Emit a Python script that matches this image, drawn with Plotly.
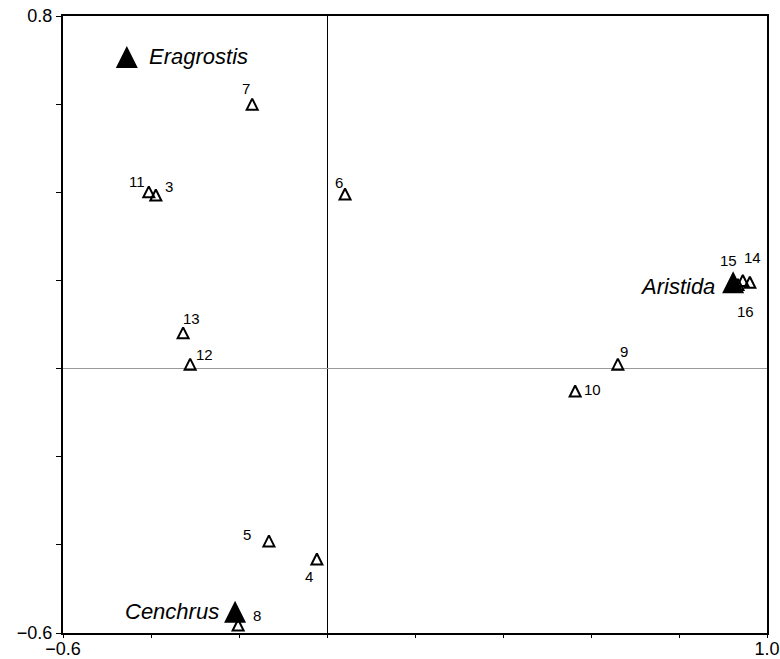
import plotly.graph_objects as go

# Site scores (open triangles)
site_ids = ["3", "4", "5", "6", "7", "8", "9", "10", "11", "12", "13", "14", "15", "16"]
site_x = [-0.389, -0.023, -0.132, 0.041, -0.170, -0.202, 0.661, 0.564, -0.405, -0.311, -0.327, 0.961, 0.945, 0.934]
site_y = [0.394, -0.432, -0.391, 0.396, 0.600, -0.582, 0.010, -0.051, 0.401, 0.010, 0.081, 0.196, 0.200, 0.191]

# Grass genera (filled triangles)
genus_names = ["Eragrostis", "Cenchrus", "Aristida"]
genus_x = [-0.455, -0.209, 0.923]
genus_y = [0.707, -0.552, 0.196]

# Axis ticks
tick_vals_x = [-0.6, -0.4, -0.2, 0.0, 0.2, 0.4, 0.6, 0.8, 1.0]
tick_text_x = ["\u22120.6", "", "", "", "", "", "", "", "1.0"]
tick_vals_y = [-0.6, -0.4, -0.2, 0.0, 0.2, 0.4, 0.6, 0.8]
tick_text_y = ["\u22120.6", "", "", "", "", "", "", "0.8"]

# Pixel offsets for the site number labels
site_label_shift = {
    "3": (13, 8), "4": (-8, -18), "5": (-22, 6), "6": (-6, 12), "7": (-6, 16),
    "8": (19, 10), "9": (6, 13), "10": (17, 2), "11": (-12, 10), "12": (14, 10),
    "13": (8, 14), "14": (3, 25), "15": (-14, 20), "16": (8, -27),
}
# Anchor and offsets for the genus labels
genus_label_style = {
    "Eragrostis": ("left", 20, 0),
    "Cenchrus": ("right", -14, 0),
    "Aristida": ("right", -16, -4),
}

FONT = "Liberation Sans, Arial, sans-serif"

# Equilateral upward triangles centred on the point: an arrow-down symbol
# turned by 180 degrees and pushed back by half its size.
SMALL, BIG = 11, 22

fig = go.Figure()
fig.add_trace(go.Scatter(
    x=site_x, y=site_y, mode="markers",
    marker=dict(symbol="arrow-down-open", size=SMALL, angle=180, standoff=SMALL / 2,
                color="black", line=dict(width=2, color="black")),
    hoverinfo="text", text=site_ids, showlegend=False,
))
fig.add_trace(go.Scatter(
    x=genus_x, y=genus_y, mode="markers",
    marker=dict(symbol="arrow-down", size=BIG, angle=180, standoff=BIG / 2,
                color="black", line=dict(width=0)),
    hoverinfo="text", text=genus_names, showlegend=False,
))

annotations = []
for sid, x, y in zip(site_ids, site_x, site_y):
    dx, dy = site_label_shift[sid]
    annotations.append(dict(x=x, y=y, text=sid, showarrow=False, xshift=dx, yshift=dy,
                            font=dict(family=FONT, size=15, color="black")))
for name, x, y in zip(genus_names, genus_x, genus_y):
    anchor, dx, dy = genus_label_style[name]
    annotations.append(dict(x=x, y=y, text="<i>" + name + "</i>", showarrow=False,
                            xanchor=anchor, xshift=dx, yshift=dy,
                            font=dict(family=FONT, size=22, color="black")))

fig.update_layout(
    width=780, height=659,
    margin=dict(l=63, r=13, t=16, b=26, autoexpand=False),
    paper_bgcolor="white", plot_bgcolor="white",
    font=dict(family=FONT, size=18, color="black"),
    annotations=annotations,
    xaxis=dict(
        range=[-0.6, 1.0], tickvals=tick_vals_x, ticktext=tick_text_x,
        ticks="outside", ticklen=3, tickwidth=1, tickcolor="black",
        showline=True, linecolor="black", linewidth=2, mirror=True,
        showgrid=False, zeroline=True, zerolinecolor="black", zerolinewidth=1,
        tickfont=dict(family=FONT, size=18), ticklabelstandoff=-5,
        ticklabeloverflow="allow", automargin=False, fixedrange=True,
    ),
    yaxis=dict(
        range=[-0.6, 0.8], tickvals=tick_vals_y, ticktext=tick_text_y,
        ticks="outside", ticklen=5, tickwidth=1, tickcolor="black",
        showline=True, linecolor="black", linewidth=2, mirror=True,
        showgrid=False, zeroline=True, zerolinecolor="#9a9a9a", zerolinewidth=1,
        tickfont=dict(family=FONT, size=18), ticklabeloverflow="allow",
        automargin=False, fixedrange=True,
    ),
)

fig.write_html("out.html")
